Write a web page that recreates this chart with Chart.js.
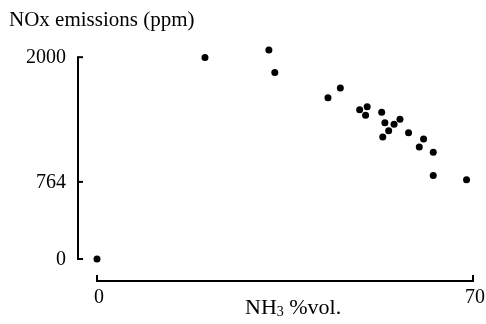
<!DOCTYPE html>
<html>
<head>
<meta charset="utf-8">
<script src="https://cdn.jsdelivr.net/npm/chart.js@4"></script>
<style>
  html, body { margin: 0; padding: 0; background: #fff; }
  #wrap { width: 486px; height: 324px; }
</style>
</head>
<body>
<div id="wrap"><canvas id="chart" width="486" height="324"></canvas></div>
<script>
// --- DATA ---
const nh3Vol = [0, 20.1, 32, 33.1, 43, 45.3, 48.9, 50, 50.3, 53, 53.2, 53.6, 54.3, 55.3, 56.4, 58, 60, 60.8, 62.6, 62.6, 68.8];
const noxPpm = [0, 1996, 2072, 1847, 1599, 1695, 1480, 1424, 1509, 1454, 1208, 1351, 1271, 1335, 1384, 1251, 1109, 1189, 1057, 828, 785];
const xTicks = [0, 70];
const yTicks = [0, 764, 2000];
const yTitle = 'NOx emissions (ppm)';
const xTitleMain = 'NH';
const xTitleSub = '3';
const xTitleRest = ' %vol.';

const FONT = '"Liberation Serif", "Times New Roman", serif';
const INK = '#000';

// --- detached axes, ticks and labels drawn from the scales ---
const rangeAxes = {
    id: 'rangeAxes',
    afterDraw(chart) {
        const ctx = chart.ctx;
        const xs = chart.scales.x;
        const ys = chart.scales.y;
        const area = chart.chartArea;

        const axisX = area.left - 19;   // vertical axis line
        const axisY = area.bottom + 22; // horizontal axis line

        ctx.save();
        ctx.strokeStyle = INK;
        ctx.fillStyle = INK;
        ctx.lineWidth = 2;
        ctx.lineCap = 'butt';

        // y axis
        const yTop = ys.getPixelForValue(Math.max(...yTicks));
        const yBot = ys.getPixelForValue(Math.min(...yTicks));
        ctx.beginPath();
        ctx.moveTo(axisX, yTop - 1);
        ctx.lineTo(axisX, yBot + 1);
        ctx.stroke();
        yTicks.forEach(v => {
            const py = ys.getPixelForValue(v);
            ctx.beginPath();
            ctx.moveTo(axisX, py);
            ctx.lineTo(axisX + 5, py);
            ctx.stroke();
        });

        // x axis
        const xL = xs.getPixelForValue(Math.min(...xTicks));
        const xR = xs.getPixelForValue(Math.max(...xTicks));
        ctx.beginPath();
        ctx.moveTo(xL - 1, axisY);
        ctx.lineTo(xR + 1, axisY);
        ctx.stroke();
        xTicks.forEach(v => {
            const px = xs.getPixelForValue(v);
            ctx.beginPath();
            ctx.moveTo(px, axisY);
            ctx.lineTo(px, axisY - 6);
            ctx.stroke();
        });

        // tick labels
        ctx.font = '20px ' + FONT;
        ctx.textBaseline = 'middle';
        ctx.textAlign = 'right';
        yTicks.forEach(v => {
            ctx.fillText(String(v), axisX - 12, ys.getPixelForValue(v) + 1);
        });
        ctx.textAlign = 'center';
        xTicks.forEach(v => {
            ctx.fillText(String(v), xs.getPixelForValue(v) + 2, axisY + 17);
        });

        // axis titles
        ctx.textAlign = 'left';
        ctx.font = '21px ' + FONT;
        ctx.fillText(yTitle, 9, 20);

        let tx = 245;
        const ty = axisY + 27;
        ctx.font = '22px ' + FONT;
        ctx.fillText(xTitleMain, tx, ty);
        tx += ctx.measureText(xTitleMain).width;
        ctx.font = '14px ' + FONT;
        ctx.fillText(xTitleSub, tx, ty + 4);
        tx += ctx.measureText(xTitleSub).width;
        ctx.font = '22px ' + FONT;
        ctx.fillText(xTitleRest, tx, ty);

        ctx.restore();
    }
};

const points = nh3Vol.map((x, i) => ({ x, y: noxPpm[i] }));

new Chart(document.getElementById('chart'), {
    type: 'scatter',
    data: {
        datasets: [{
            data: points,
            backgroundColor: INK,
            borderColor: INK,
            borderWidth: 0,
            pointRadius: 3.5,
            pointHoverRadius: 3.5,
            clip: false
        }]
    },
    options: {
        responsive: false,
        animation: false,
        events: [],
        // y max above the top tick so points over 2000 stay inside the area
        layout: { padding: { left: 97, right: 13, top: 37, bottom: 65 } },
        scales: {
            x: { type: 'linear', min: 0, max: 70, display: false },
            y: { type: 'linear', min: 0, max: 2200, display: false }
        },
        plugins: {
            legend: { display: false },
            tooltip: { enabled: false }
        }
    },
    plugins: [rangeAxes]
});
</script>
</body>
</html>
